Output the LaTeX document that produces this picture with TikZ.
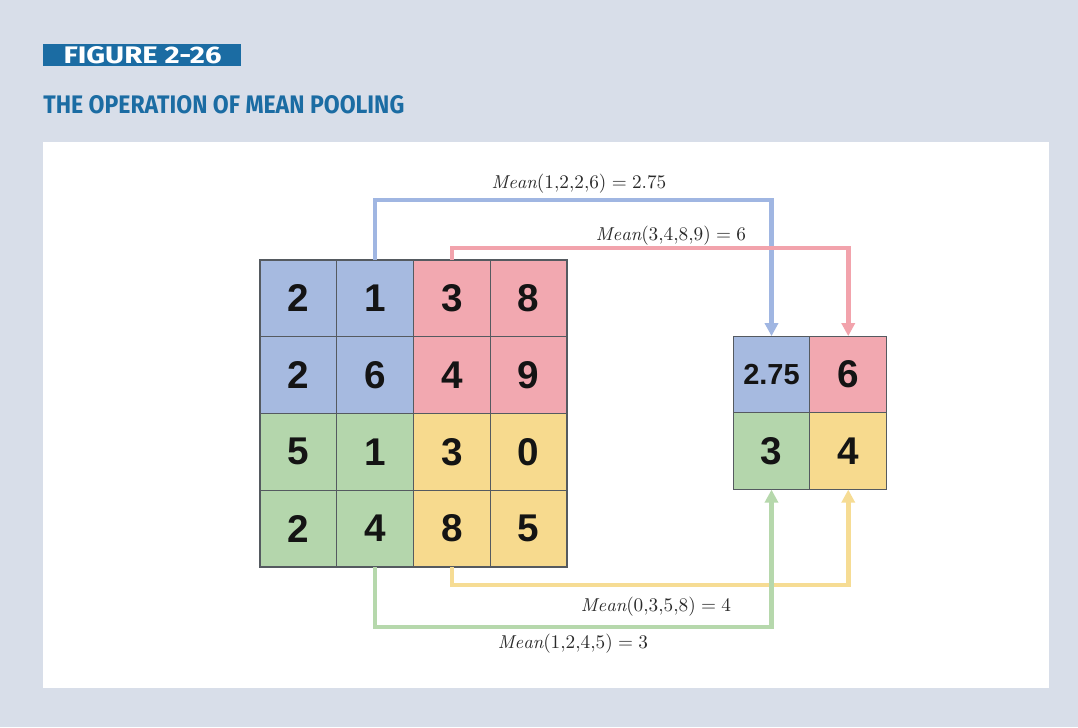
\documentclass[tikz,border=0pt]{standalone}
\usepackage{fontspec}
\usepackage{graphicx}
\newfontfamily\cellfont{Liberation Sans}
\newfontfamily\headfont{Fira Sans}
\usetikzlibrary{arrows.meta, positioning}
\definecolor{mpBack}{HTML}{D8DEE9}
\definecolor{mpHead}{HTML}{1B6CA3}
\definecolor{mpEdge}{HTML}{555A60}
\definecolor{mpInk}{HTML}{141414}
\definecolor{mpText}{HTML}{2A2A2A}
\definecolor{mpBlue}{HTML}{A6BAE0}
\definecolor{mpPink}{HTML}{F2A8B0}
\definecolor{mpGreen}{HTML}{B4D6AC}
\definecolor{mpYellow}{HTML}{F7DA8E}
\definecolor{mpBlueLine}{HTML}{A0B6E2}
\definecolor{mpPinkLine}{HTML}{F2A3AC}
\definecolor{mpGreenLine}{HTML}{B6D8AC}
\definecolor{mpYellowLine}{HTML}{F6DC94}
\tikzset{
  mp-cell/.style={
    rectangle, draw=mpEdge, line width=0.6pt, outer sep=0pt, inner sep=0pt,
    minimum size=1.535cm, text=mpInk,
    font=\cellfont\bfseries\fontsize{22}{24}\selectfont
  },
  mp-blue/.style={mp-cell, fill=mpBlue},
  mp-pink/.style={mp-cell, fill=mpPink},
  mp-green/.style={mp-cell, fill=mpGreen},
  mp-yellow/.style={mp-cell, fill=mpYellow},
  mp-flow/.style={-{Triangle[length=0.26cm, width=0.26cm]}, line width=2.6pt},
  mp-label/.style={text=mpText, font=\fontsize{10.6}{12}\selectfont, inner sep=1pt},
}

\begin{document}
\begin{tikzpicture}[node distance=0pt]
  % page, panel and heading
  \useasboundingbox (0,0) rectangle (21.56,-14.54);
  \fill[mpBack] (0,0) rectangle (21.56,-14.54);
  \fill[white] (0.86,-2.84) rectangle (20.98,-13.76);
  \fill[mpHead] (0.86,-0.88) rectangle (4.82,-1.32);
  \node[text=white, inner sep=0pt] (fig) at (2.85,-1.11)
    {\resizebox{3.16cm}{0.34cm}{\headfont\bfseries FIGURE 2-26}};
  \node[text=mpHead, anchor=west, inner sep=0pt] (title) at (0.86,-2.1)
    {\resizebox{7.22cm}{0.36cm}{\headfont\bfseries THE OPERATION OF MEAN POOLING}};

  % input feature map
  \node[mp-blue] (in11) at (5.9675,-5.9675) {2};
  \node[mp-blue, right=of in11] (in12) {1};
  \node[mp-pink, right=of in12] (in13) {3};
  \node[mp-pink, right=of in13] (in14) {8};
  \node[mp-blue, below=of in11] (in21) {2};
  \node[mp-blue, right=of in21] (in22) {6};
  \node[mp-pink, right=of in22] (in23) {4};
  \node[mp-pink, right=of in23] (in24) {9};
  \node[mp-green, below=of in21] (in31) {5};
  \node[mp-green, right=of in31] (in32) {1};
  \node[mp-yellow, right=of in32] (in33) {3};
  \node[mp-yellow, right=of in33] (in34) {0};
  \node[mp-green, below=of in31] (in41) {2};
  \node[mp-green, right=of in41] (in42) {4};
  \node[mp-yellow, right=of in42] (in43) {8};
  \node[mp-yellow, right=of in43] (in44) {5};

  % pooled output
  \node[mp-blue, font=\cellfont\bfseries\fontsize{16.5}{18}\selectfont] (out11) at (15.43,-7.49) {2.75};
  \node[mp-pink, right=of out11] (out12) {6};
  \node[mp-green, below=of out11] (out21) {3};
  \node[mp-yellow, right=of out21] (out22) {4};

  % pooling connectors
  \draw[mp-flow, draw=mpBlueLine] (in12.north) -- ++(0,1.2) -| (out11.north);
  \draw[mp-flow, draw=mpPinkLine] (in13.north) -- ++(0,0.24) -| (out12.north);
  \draw[mp-flow, draw=mpYellowLine] (in43.south) -- ++(0,-0.36) -| (out22.south);
  \draw[mp-flow, draw=mpGreenLine] (in42.south) -- ++(0,-1.2) -| (out21.south);

  \node[mp-label] (lblue) at (11.58,-3.68) {$\mathit{Mean}(1{,}2{,}2{,}6) = 2.75$};
  \node[mp-label] (lpink) at (13.42,-4.72) {$\mathit{Mean}(3{,}4{,}8{,}9) = 6$};
  \node[mp-label] (lyellow) at (13.12,-12.14) {$\mathit{Mean}(0{,}3{,}5{,}8) = 4$};
  \node[mp-label] (lgreen) at (11.46,-12.88) {$\mathit{Mean}(1{,}2{,}4{,}5) = 3$};
\end{tikzpicture}
\end{document}
